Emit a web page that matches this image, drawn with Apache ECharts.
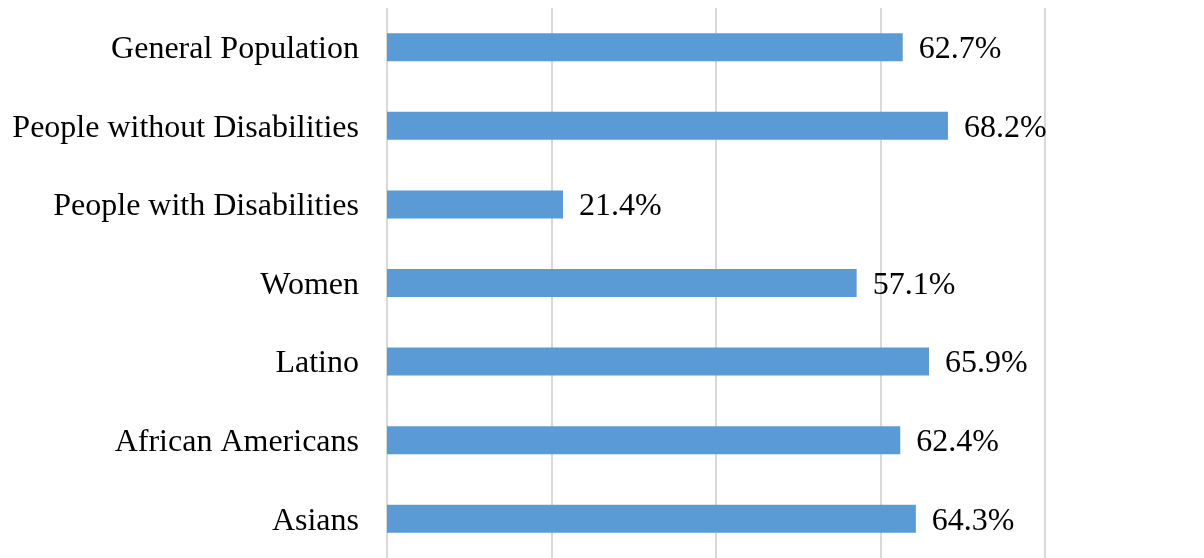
<!DOCTYPE html>
<html>
<head>
<meta charset="utf-8">
<script src="https://cdn.jsdelivr.net/npm/echarts@6/dist/echarts.min.js"></script>
<style>
html,body{margin:0;padding:0;background:#fff;}
#chart{width:1204px;height:558px;}
</style>
</head>
<body>
<div id="chart"></div>
<script>
const categories = ["General Population","People without Disabilities","People with Disabilities","Women","Latino","African Americans","Asians"];
const values = [62.7, 68.2, 21.4, 57.1, 65.9, 62.4, 64.3];

const serif = '"Liberation Serif", "Times New Roman", serif';
const txt = {color: '#000', fontSize: 32, fontFamily: serif, padding: [5, 0, 0, 0]};

const chart = echarts.init(document.getElementById('chart'), null, {renderer:'canvas'});
chart.setOption({
  animation: false,
  backgroundColor: '#ffffff',
  grid: {left: 387, right: 159, top: 8, bottom: -1, containLabel: false},
  xAxis: {
    type: 'value', min: 0, max: 80, interval: 20,
    axisLabel: {show: false},
    axisLine: {show: false},
    axisTick: {show: false},
    splitLine: {show: true, lineStyle: {color: '#d9d9d9', width: 2}}
  },
  yAxis: {
    type: 'category', data: categories, inverse: true,
    axisLine: {show: false},
    axisTick: {show: false},
    axisLabel: {
      margin: 28, color: '#000', fontSize: 32, fontFamily: serif,
      formatter: v => '{t|' + v + '}',
      rich: {t: txt}
    }
  },
  series: [{
    type: 'bar', data: values, barWidth: 28,
    itemStyle: {color: '#5B9BD5'},
    label: {
      show: true, position: 'right', distance: 16,
      color: '#000', fontSize: 32, fontFamily: serif,
      formatter: p => '{t|' + p.value.toFixed(1) + '%}',
      rich: {t: txt}
    }
  }]
});
</script>
</body>
</html>
